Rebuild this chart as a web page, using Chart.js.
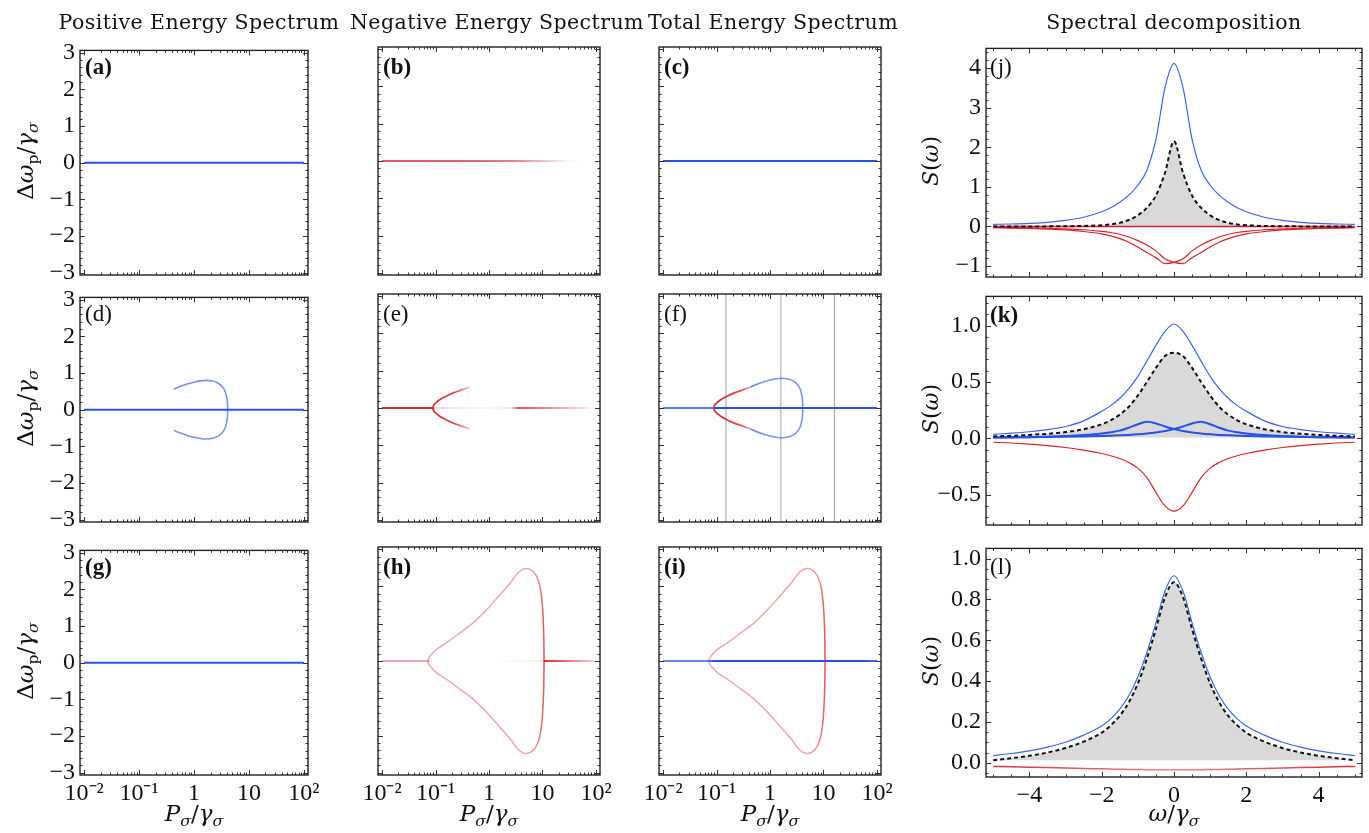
<!DOCTYPE html>
<html>
<head>
<meta charset="utf-8">
<script src="https://cdn.jsdelivr.net/npm/chart.js@4.4.1/dist/chart.umd.min.js"></script>
<style>
body { margin: 0; background: #fff; width: 1369px; height: 833px; position: relative; overflow: hidden;
       font-family: "DejaVu Serif", serif; color: #111; }
.box { position: absolute; }
.head { position: absolute; top: 10px; font-size: 20.5px; letter-spacing: 0.45px; line-height: 24px; white-space: nowrap; transform: translateX(-50%); }
.ylab { position: absolute; font-size: 23px; white-space: nowrap; transform: translate(-50%, -50%) rotate(-90deg); }
.slab { position: absolute; font-size: 22px; white-space: nowrap; transform: translate(-50%, -50%) rotate(-90deg); }
.xlab { position: absolute; top: 800px; font-size: 23px; white-space: nowrap; transform: translateX(-50%); }
.tag { position: absolute; font-family: "Liberation Serif", serif; font-size: 23px; line-height: 22px; }
sub { font-size: 68%; vertical-align: -0.3em; }
i { font-style: italic; }
</style>
</head>
<body>
<script>
// ---------- data: eigenvalue branches, Δω_p/γ_σ vs P_σ/γ_σ ----------
var flatP  = [0.01, 0.1, 1, 10, 100];
var flatDw = [0, 0, 0, 0, 0];

// branch born at the exceptional point (low pump)
var lowP    = [0.089, 0.092, 0.1, 0.12, 0.15, 0.21, 0.3, 0.43];
var lowUp   = [0, 0.07, 0.13, 0.22, 0.30, 0.40, 0.48, 0.56];
var lowDown = [0, -0.07, -0.13, -0.22, -0.30, -0.40, -0.48, -0.56];

// continuation of that branch up to where it closes again
var highP    = [0.43, 0.55, 0.75, 1.0, 1.3, 1.66, 2.2, 2.75, 3.3, 3.7, 3.95, 4.07, 4.1];
var highUp   = [0.56, 0.63, 0.70, 0.75, 0.785, 0.80, 0.78, 0.72, 0.62, 0.49, 0.33, 0.18, 0];
var highDown = [-0.56, -0.63, -0.70, -0.75, -0.785, -0.80, -0.78, -0.72, -0.62, -0.49, -0.33, -0.18, 0];

// large loop of panels (h) and (i)
var loopP    = [0.072, 0.0745, 0.084, 0.104, 0.161, 0.288, 0.51, 0.92, 1.63, 2.52, 3.6, 4.84, 6.3, 7.7, 8.9, 9.8, 10.35, 10.6, 10.7];
var loopUp   = [0, 0.08, 0.18, 0.31, 0.49, 0.76, 1.03, 1.39, 1.79, 2.1, 2.39, 2.48, 2.43, 2.28, 2.02, 1.6, 1.05, 0.5, 0];
var loopDown = [0, -0.08, -0.18, -0.31, -0.49, -0.76, -1.03, -1.39, -1.79, -2.1, -2.39, -2.48, -2.43, -2.28, -2.02, -1.6, -1.05, -0.5, 0];

// pump values marked in panel (f)
var markerP = [0.15, 1.6, 16];

// ---------- data: spectra S(ω) vs ω/γ_σ ----------
var omega = [-5, -4.5, -4, -3.5, -3, -2.5, -2, -1.75, -1.5, -1.25, -1, -0.75, -0.5, -0.25, 0,
             0.25, 0.5, 0.75, 1, 1.25, 1.5, 1.75, 2, 2.5, 3, 3.5, 4, 4.5, 5];
var zeroW = [-5, 5];
var zeroS = [0, 0];

var jPositive = [0.05, 0.06, 0.075, 0.1, 0.15, 0.23, 0.37, 0.47, 0.61, 0.79, 1.04, 1.42, 2.2, 3.5, 4.12,
                 3.5, 2.2, 1.42, 1.04, 0.79, 0.61, 0.47, 0.37, 0.23, 0.15, 0.1, 0.075, 0.06, 0.05];
var jTotal = [0, 0, 0, 0, 0.005, 0.01, 0.03, 0.05, 0.09, 0.16, 0.28, 0.47, 0.78, 1.35, 2.15,
              1.35, 0.78, 0.47, 0.28, 0.16, 0.09, 0.05, 0.03, 0.01, 0.005, 0, 0, 0, 0];
var jNegA = [-0.034, -0.042, -0.052, -0.068, -0.09, -0.13, -0.19, -0.24, -0.31, -0.40, -0.52, -0.66, -0.79, -0.94, -0.91,
             -0.82, -0.62, -0.47, -0.36, -0.27, -0.2, -0.155, -0.125, -0.085, -0.062, -0.048, -0.038, -0.031, -0.026];
var jNegB = [-0.026, -0.031, -0.038, -0.048, -0.062, -0.085, -0.125, -0.155, -0.2, -0.27, -0.36, -0.47, -0.62, -0.82, -0.91,
             -0.94, -0.79, -0.66, -0.52, -0.40, -0.31, -0.24, -0.19, -0.13, -0.09, -0.068, -0.052, -0.042, -0.034];

var kPositive = [0.035, 0.045, 0.058, 0.077, 0.105, 0.155, 0.24, 0.29, 0.355, 0.44, 0.55, 0.685, 0.825, 0.95, 1.015,
                 0.95, 0.825, 0.685, 0.55, 0.44, 0.355, 0.29, 0.24, 0.155, 0.105, 0.077, 0.058, 0.045, 0.035];
var kTotal = [0.017, 0.022, 0.03, 0.04, 0.055, 0.08, 0.125, 0.16, 0.21, 0.28, 0.38, 0.50, 0.625, 0.73, 0.76,
              0.73, 0.625, 0.50, 0.38, 0.28, 0.21, 0.16, 0.125, 0.08, 0.055, 0.04, 0.03, 0.022, 0.017];
var kSideA = [0.006, 0.008, 0.01, 0.014, 0.02, 0.029, 0.043, 0.054, 0.068, 0.094, 0.125, 0.146, 0.132, 0.105, 0.082,
              0.065, 0.052, 0.042, 0.035, 0.03, 0.026, 0.023, 0.02, 0.017, 0.014, 0.012, 0.01, 0.009, 0.008];
var kSideB = [0.008, 0.009, 0.01, 0.012, 0.014, 0.017, 0.02, 0.023, 0.026, 0.03, 0.035, 0.042, 0.052, 0.065, 0.082,
              0.105, 0.132, 0.146, 0.125, 0.094, 0.068, 0.054, 0.043, 0.029, 0.02, 0.014, 0.01, 0.008, 0.006];
var kNegative = [-0.035, -0.042, -0.052, -0.065, -0.082, -0.105, -0.135, -0.155, -0.18, -0.215, -0.265, -0.35, -0.48, -0.6, -0.647,
                 -0.6, -0.48, -0.35, -0.265, -0.215, -0.18, -0.155, -0.135, -0.105, -0.082, -0.065, -0.052, -0.042, -0.035];

var lPositive = [0.035, 0.045, 0.058, 0.076, 0.10, 0.135, 0.18, 0.215, 0.262, 0.328, 0.42, 0.54, 0.685, 0.84, 0.916,
                 0.84, 0.685, 0.54, 0.42, 0.328, 0.262, 0.215, 0.18, 0.135, 0.10, 0.076, 0.058, 0.045, 0.035];
var lTotal = [0.012, 0.022, 0.034, 0.05, 0.072, 0.103, 0.147, 0.183, 0.23, 0.296, 0.388, 0.51, 0.655, 0.81, 0.884,
              0.81, 0.655, 0.51, 0.388, 0.296, 0.23, 0.183, 0.147, 0.103, 0.072, 0.05, 0.034, 0.022, 0.012];
var lNegative = [-0.018, -0.02, -0.022, -0.024, -0.026, -0.028, -0.03, -0.031, -0.032, -0.033, -0.033, -0.034, -0.034, -0.034, -0.034,
                 -0.034, -0.034, -0.034, -0.033, -0.033, -0.032, -0.031, -0.03, -0.028, -0.026, -0.024, -0.022, -0.02, -0.018];

// ---------- tick labels ----------
var logMajor = [0.01, 0.1, 1, 10, 100];
var logLabels = ['10⁻²', '10⁻¹', '1', '10', '10²'];

// ---------- styles ----------
var BLUE = '40,80,230', RED = '215,35,45', BLUE2 = '60,100,235';
var FONT = { family: 'Liberation Serif', size: 24 };
var PAD = { l: 70, t: 16, r: 34, b: 50 };

function pts(xs, ys) {
  return xs.map(function (x, i) { return { x: x, y: ys[i] }; });
}
function steps(a, b, d) {
  var out = [];
  for (var v = a; v <= b + 1e-9; v += d) out.push(Math.round(v * 1000) / 1000);
  return out;
}
function minus(v) { return v < 0 ? '−' + (-v) : String(v); }

// colour fading along x (stops are [x, alpha])
function fade(rgb, stops) {
  return function (c) {
    var ch = c.chart, a = ch.chartArea;
    if (!a) return 'rgba(' + rgb + ',1)';
    var sx = ch.scales.x;
    var g = ch.ctx.createLinearGradient(a.left, 0, a.right, 0);
    stops.forEach(function (s) {
      var t = (sx.getPixelForValue(s[0]) - a.left) / (a.right - a.left);
      g.addColorStop(Math.min(1, Math.max(0, t)), 'rgba(' + rgb + ',' + s[1] + ')');
    });
    return g;
  };
}

function line(xs, ys, color, width, extra) {
  var d = { data: pts(xs, ys), showLine: true, borderColor: color, borderWidth: width,
            pointRadius: 0, fill: false };
  for (var k in extra) d[k] = extra[k];
  return d;
}

// frame with inward ticks on all four sides
var frame = {
  id: 'frame',
  afterDatasetsDraw: function (chart, args, o) {
    var ctx = chart.ctx, a = chart.chartArea, sx = chart.scales.x, sy = chart.scales.y;
    ctx.save();
    ctx.strokeStyle = '#333';
    ctx.lineWidth = 1;
    ctx.beginPath();
    function xt(vals, len) {
      vals.forEach(function (v) {
        var p = Math.round(sx.getPixelForValue(v)) + 0.5;
        if (p < a.left + 1 || p > a.right - 1) return;
        ctx.moveTo(p, a.bottom); ctx.lineTo(p, a.bottom - len);
        ctx.moveTo(p, a.top); ctx.lineTo(p, a.top + len);
      });
    }
    function yt(vals, len) {
      vals.forEach(function (v) {
        var p = Math.round(sy.getPixelForValue(v)) + 0.5;
        if (p < a.top + 1 || p > a.bottom - 1) return;
        ctx.moveTo(a.left, p); ctx.lineTo(a.left + len, p);
        ctx.moveTo(a.right, p); ctx.lineTo(a.right - len, p);
      });
    }
    xt(o.xMajor, 5); xt(o.xMinor, 2.5);
    yt(o.yMajor, 5); yt(o.yMinor, 2.5);
    ctx.stroke();
    ctx.lineWidth = 1.4;
    ctx.strokeStyle = '#222';
    ctx.strokeRect(a.left, a.top, a.width, a.height);
    ctx.restore();
  }
};

function axis(ax, isX) {
  return {
    type: ax.type, min: ax.min, max: ax.max,
    grid: { display: false, drawTicks: false },
    border: { display: false },
    afterFit: function (s) { if (isX) s.height = PAD.b; else s.width = PAD.l; },
    afterBuildTicks: function (s) { s.ticks = ax.major.map(function (v) { return { value: v }; }); },
    ticks: { display: ax.show, font: FONT, color: '#111', padding: isX ? 4 : 5,
             maxRotation: 0, autoSkip: false, callback: ax.fmt }
  };
}

function panel(L, T, W, H, xAx, yAx, datasets) {
  var div = document.createElement('div');
  div.className = 'box';
  div.style.left = (L - PAD.l) + 'px';
  div.style.top = (T - PAD.t) + 'px';
  div.style.width = (W + PAD.l + PAD.r) + 'px';
  div.style.height = (H + PAD.t + PAD.b) + 'px';
  var cv = document.createElement('canvas');
  div.appendChild(cv);
  document.body.appendChild(div);
  return new Chart(cv, {
    type: 'scatter',
    data: { datasets: datasets },
    options: {
      responsive: true, maintainAspectRatio: false, animation: false,
      layout: { padding: { left: 0, top: PAD.t, right: PAD.r, bottom: 0 } },
      plugins: {
        legend: { display: false }, tooltip: { enabled: false },
        filler: { drawTime: 'beforeDatasetsDraw' },
        frame: { xMajor: xAx.major, xMinor: xAx.minor, yMajor: yAx.major, yMinor: yAx.minor }
      },
      scales: { x: axis(xAx, true), y: axis(yAx, false) }
    },
    plugins: [frame]
  });
}

function text(cls, html, left, top, weight) {
  var d = document.createElement('div');
  d.className = cls;
  d.innerHTML = html;
  d.style.left = left + 'px';
  if (top !== null) d.style.top = top + 'px';
  if (weight) d.style.fontWeight = weight;
  document.body.appendChild(d);
}

// ---------- layout ----------
var colL = [80, 378, 659], colW = [228, 222, 222];
var rowT = [47, 294, 547], rowH = 228;
var c4L = 986, c4W = 376, c4T = [45, 293, 545], c4H = 232;
var DWMIN = -3.06, DWMAX = 3.06;

var logMinor = [];
[0.01, 0.1, 1, 10].forEach(function (d) { for (var m = 2; m <= 9; m++) logMinor.push(m * d); });
function logX(show) {
  return { type: 'logarithmic', min: 0.00841, max: 118.9, major: logMajor, minor: logMinor, show: show,
           fmt: function (v) { var i = logMajor.indexOf(v); return i < 0 ? '' : logLabels[i]; } };
}
function dwY(show) {
  return { type: 'linear', min: DWMIN, max: DWMAX, major: steps(-3, 3, 1), minor: steps(-3, 3, 0.2),
           show: show, fmt: minus };
}
function omegaX(show) {
  return { type: 'linear', min: -5.2, max: 5.2, major: [-4, -2, 0, 2, 4], minor: steps(-5, 5, 0.5),
           show: show, fmt: minus };
}

var blueLine = function () { return line(flatP, flatDw, 'rgba(' + BLUE + ',1)', 2); };

// row 1
panel(colL[0], rowT[0], colW[0], rowH, logX(false), dwY(true), [blueLine()]);
panel(colL[1], rowT[0], colW[1], rowH, logX(false), dwY(false), [
  line(flatP, flatDw, fade(RED, [[0.01, 0.75], [0.5, 0.7], [3, 0.55], [10, 0.3], [30, 0.05], [50, 0]]), 2)
]);
panel(colL[2], rowT[0], colW[2], rowH, logX(false), dwY(false), [blueLine()]);

// row 2
panel(colL[0], rowT[1], colW[0], rowH, logX(false), dwY(true), [
  line(highP, highUp, 'rgba(' + BLUE + ',0.62)', 1.6, { tension: 0.35 }),
  line(highP, highDown, 'rgba(' + BLUE + ',0.62)', 1.6, { tension: 0.35 }),
  blueLine()
]);
var eLow = fade(RED, [[0.089, 0.95], [0.2, 0.85], [0.3, 0.6], [0.43, 0.25]]);
panel(colL[1], rowT[1], colW[1], rowH, logX(false), dwY(false), [
  line(lowP, lowUp, eLow, 1.8, { tension: 0.35 }),
  line(lowP, lowDown, eLow, 1.8, { tension: 0.35 }),
  line(flatP, flatDw, fade(RED, [[0.01, 0.95], [0.085, 0.95], [0.1, 0.2], [0.3, 0.08], [1, 0.05], [2.5, 0.1],
                                 [3.6, 0.8], [5, 0.75], [20, 0.4], [60, 0.15], [90, 0.02]]), 2)
]);
var fLow = fade(RED, [[0.089, 0.95], [0.25, 0.85], [0.35, 0.6], [0.43, 0.35]]);
var fHigh = fade(BLUE, [[0.43, 0.75], [0.7, 0.6], [4.2, 0.6]]);
var fSets = [
  line(flatP, flatDw, fade(BLUE, [[0.01, 0.75], [0.085, 0.75], [0.1, 1], [100, 1]]), 2),
  line(lowP, lowUp, fLow, 1.8, { tension: 0.35 }),
  line(lowP, lowDown, fLow, 1.8, { tension: 0.35 }),
  line(highP, highUp, fHigh, 1.6, { tension: 0.35 }),
  line(highP, highDown, fHigh, 1.6, { tension: 0.35 })
];
markerP.forEach(function (p) {
  fSets.push(line([p, p], [DWMIN, DWMAX], 'rgba(150,150,150,0.9)', 1));
});
panel(colL[2], rowT[1], colW[2], rowH, logX(false), dwY(false), fSets);

// row 3
var loopCol = fade(RED, [[0.07, 0.4], [5, 0.4], [8, 0.5], [10, 0.7], [11, 0.8]]);
panel(colL[0], rowT[2], colW[0], rowH, logX(true), dwY(true), [blueLine()]);
panel(colL[1], rowT[2], colW[1], rowH, logX(true), dwY(false), [
  line(loopP, loopUp, loopCol, 1.5, { tension: 0.35 }),
  line(loopP, loopDown, loopCol, 1.5, { tension: 0.35 }),
  line(flatP, flatDw, fade(RED, [[0.01, 0.4], [0.07, 0.4], [0.085, 0], [1, 0], [3, 0.04], [9, 0.08], [10.2, 0.1],
                                 [10.8, 0.95], [20, 0.75], [50, 0.45], [95, 0.2]]), 2)
]);
panel(colL[2], rowT[2], colW[2], rowH, logX(true), dwY(false), [
  line(flatP, flatDw, fade(BLUE, [[0.01, 0.7], [0.065, 0.7], [0.09, 1], [60, 1], [100, 0.85]]), 2),
  line(loopP, loopUp, loopCol, 1.5, { tension: 0.35 }),
  line(loopP, loopDown, loopCol, 1.5, { tension: 0.35 })
]);

// spectral decomposition column
var mono = { cubicInterpolationMode: 'monotone' };
function totalLine(ys, base) {
  return line(omega, ys, '#111', 2, { borderDash: [4, 3], cubicInterpolationMode: 'monotone',
                                     fill: { value: base }, backgroundColor: '#d9d9d9' });
}
panel(c4L, c4T[0], c4W, c4H, omegaX(false),
  { type: 'linear', min: -1.28, max: 4.5, major: steps(-1, 4, 1), minor: steps(-1.2, 4.4, 0.2), show: true, fmt: minus }, [
  totalLine(jTotal, 0),
  line(omega, jPositive, 'rgba(' + BLUE2 + ',1)', 1.2, mono),
  line(zeroW, zeroS, 'rgba(' + RED + ',1)', 1.5),
  line(omega, jNegA, 'rgba(' + RED + ',1)', 1.2, mono),
  line(omega, jNegB, 'rgba(' + RED + ',1)', 1.2, mono)
]);
panel(c4L, c4T[1], c4W, c4H, omegaX(false),
  { type: 'linear', min: -0.77, max: 1.26, major: [-0.5, 0, 0.5, 1], minor: steps(-0.7, 1.2, 0.1), show: true,
    fmt: function (v) { return v < 0 ? '−' + (-v).toFixed(1) : v.toFixed(1); } }, [
  totalLine(kTotal, 0.008),
  line(omega, kSideA, 'rgba(' + BLUE + ',1)', 2, mono),
  line(omega, kSideB, 'rgba(' + BLUE + ',1)', 2, mono),
  line(omega, kPositive, 'rgba(' + BLUE2 + ',1)', 1.2, mono),
  line(omega, kNegative, 'rgba(' + RED + ',1)', 1.2, mono)
]);
panel(c4L, c4T[2], c4W, c4H, omegaX(true),
  { type: 'linear', min: -0.07, max: 1.05, major: steps(0, 1, 0.2), minor: steps(-0.05, 1.05, 0.05), show: true,
    fmt: function (v) { return v.toFixed(1); } }, [
  totalLine(lTotal, 0.012),
  line(omega, lPositive, 'rgba(' + BLUE2 + ',1)', 1.2, mono),
  line(omega, lNegative, fade(RED, [[-5, 0.95], [-2, 0.7], [0, 0.55], [2, 0.7], [5, 0.95]]), 1.5, mono)
]);

// ---------- texts ----------
text('head', 'Positive Energy Spectrum', 199, null);
text('head', 'Negative Energy Spectrum', 497, null);
text('head', 'Total Energy Spectrum', 773, null);
text('head', 'Spectral decomposition', 1174, null);

var dwLabel = 'Δ<i>ω</i><sub>p</sub>/<i>γ</i><sub><i>σ</i></sub>';
var sLabel = '<i>S</i>(<i>ω</i>)';
[0, 1, 2].forEach(function (r) {
  text('ylab', dwLabel, 27, rowT[r] + rowH / 2);
  text('slab', sLabel, 930, c4T[r] + c4H / 2);
});
var pLabel = '<i>P</i><sub><i>σ</i></sub>/<i>γ</i><sub><i>σ</i></sub>';
text('xlab', pLabel, colL[0] + colW[0] / 2, null);
text('xlab', pLabel, colL[1] + colW[1] / 2, null);
text('xlab', pLabel, colL[2] + colW[2] / 2, null);
text('xlab', '<i>ω</i>/<i>γ</i><sub><i>σ</i></sub>', c4L + c4W / 2, null);

var tags = [['(a)', 'bold'], ['(b)', 'bold'], ['(c)', 'bold'], ['(d)', 'normal'], ['(e)', 'normal'], ['(f)', 'normal'],
            ['(g)', 'bold'], ['(h)', 'bold'], ['(i)', 'bold']];
tags.forEach(function (t, i) {
  text('tag', t[0], colL[i % 3] + 5, rowT[Math.floor(i / 3)] + 9, t[1]);
});
text('tag', '(j)', c4L + 4, c4T[0] + 11, 'normal');
text('tag', '(k)', c4L + 4, c4T[1] + 11, 'bold');
text('tag', '(l)', c4L + 4, c4T[2] + 11, 'normal');
</script>
</body>
</html>
